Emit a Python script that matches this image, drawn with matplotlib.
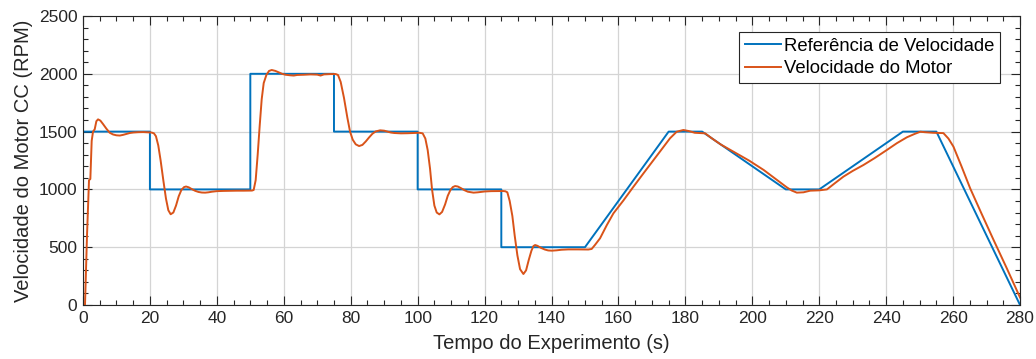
import matplotlib
matplotlib.use("Agg")
import matplotlib.pyplot as plt
from matplotlib.ticker import MultipleLocator

plt.rcParams["font.family"] = ["Liberation Sans", "DejaVu Sans"]

# Speed reference profile (time in s, speed in RPM)
ref_t = [0, 20, 20, 50, 50, 75, 75, 100, 100, 125, 125, 150, 175, 185,
         210, 220, 245, 255, 280]
ref_rpm = [1500, 1500, 1000, 1000, 2000, 2000, 1500, 1500, 1000, 1000,
           500, 500, 1500, 1500, 1000, 1000, 1500, 1500, 0]

# Measured motor speed
motor_t = [0, 0.6, 1.2, 1.8, 2.2, 2.6, 3.0, 3.5, 4.0, 4.5, 5.2, 6.0, 7.0,
           8.0, 9.0, 10.0, 11.0, 12.0, 13.0, 14.0, 15.0, 16.5, 18.0, 19.5,
           20.5, 21.2, 21.8, 22.5, 23.2, 24.0, 24.8, 25.5, 26.2, 27.0, 27.8,
           28.6, 29.4, 30.2, 30.8, 31.6, 32.5, 33.5, 34.5, 35.5, 36.5, 37.5,
           38.5, 40, 42, 44, 46, 48, 50.5, 51.0, 51.6, 52.2, 52.8, 53.4,
           54.0, 54.8, 55.6, 56.4, 57.5, 58.5, 59.5, 60.5, 62, 63, 64, 66,
           68, 70, 71, 72, 74, 75.5, 76.2, 77, 78, 79, 79.8, 80.6, 81.5,
           82.5, 83.5, 84.5, 85.5, 86.5, 87.5, 88.8, 90, 91, 92, 93, 95, 97,
           99, 100.5, 101.5, 102.3, 103.0, 103.7, 104.3, 105.0, 105.7,
           106.5, 107.3, 108.2, 109.0, 109.8, 110.5, 111.2, 112.0, 113, 114,
           115, 116.7, 118, 120, 122, 124, 125.5, 126.2, 126.8, 127.5,
           128.3, 129.0, 129.8, 130.6, 131.6, 132.4, 133.2, 134.0, 134.6,
           135.1, 135.8, 136.8, 138, 139, 140.1, 141.5, 143, 145, 148, 151,
           152, 153, 154.5, 156.5, 158.5, 161.5, 164.5, 167.5, 170.5, 173,
           175.4, 177.4, 179.4, 181, 182.8, 185.9, 188, 190.5, 194.4, 199,
           203.4, 207, 210.3, 211.8, 213.3, 215.3, 217.3, 220, 222.3, 224.5,
           227.2, 230, 233.2, 236.5, 240.2, 243.2, 246.2, 248.5, 250.2,
           251.5, 254, 257.1, 258.6, 260.1, 262.5, 265.1, 268.5, 272.1, 276,
           280]
motor_rpm = [0, 0, 600, 1080, 1090, 1420, 1500, 1520, 1590, 1606, 1595,
             1565, 1525, 1490, 1475, 1468, 1466, 1472, 1480, 1488, 1492,
             1495, 1496, 1494, 1492, 1485, 1460, 1380, 1250, 1080, 920, 820,
             785, 800, 860, 940, 995, 1020, 1025, 1018, 1003, 988, 978, 973,
             972, 975, 980, 985, 987, 988, 989, 989, 990, 995, 1080, 1300,
             1550, 1780, 1920, 1990, 2025, 2033, 2025, 2012, 2000, 1992,
             1987, 1985, 1990, 1992, 1995, 1993, 1985, 1995, 1998, 1998,
             1990, 1930, 1790, 1620, 1500, 1430, 1390, 1375, 1385, 1415,
             1450, 1482, 1502, 1511, 1508, 1500, 1492, 1488, 1485, 1486,
             1488, 1490, 1485, 1440, 1340, 1180, 1000, 860, 800, 784, 805,
             870, 945, 995, 1020, 1029, 1025, 1010, 993, 980, 972, 975, 982,
             985, 986, 986, 984, 975, 900, 770, 600, 430, 310, 268, 300, 390,
             470, 510, 519, 512, 495, 480, 472, 470, 473, 478, 481, 481, 480,
             485, 520, 577, 690, 793, 905, 1024, 1140, 1254, 1350, 1442,
             1499, 1514, 1505, 1490, 1485, 1440, 1390, 1326, 1250, 1168,
             1090, 1018, 990, 972, 975, 989, 992, 1000, 1050, 1110, 1160,
             1211, 1270, 1341, 1400, 1451, 1480, 1499, 1495, 1490, 1487,
             1440, 1370, 1200, 1009, 790, 562, 320, 65]

fig = plt.figure(figsize=(10.36, 3.59), dpi=100)
ax = fig.add_axes([0.0801, 0.1504, 0.9045, 0.805])

ax.plot(ref_t, ref_rpm, color="#0072BD", lw=1.4,
        label="Referência de Velocidade")
ax.plot(motor_t, motor_rpm, color="#D95319", lw=1.4,
        label="Velocidade do Motor")

ax.set_xlim(0, 280)
ax.set_ylim(0, 2500)
ax.xaxis.set_major_locator(MultipleLocator(20))
ax.xaxis.set_minor_locator(MultipleLocator(5))
ax.yaxis.set_major_locator(MultipleLocator(500))
ax.yaxis.set_minor_locator(MultipleLocator(100))
ax.tick_params(which="both", direction="in", top=True, right=True,
               labelsize=12.5, colors="#262626", width=0.8)
ax.tick_params(which="major", length=6.5, pad=4)
ax.tick_params(which="minor", length=3.5)
ax.grid(True, which="major", color="#d4d4d4", lw=0.9)
ax.set_axisbelow(True)
for s in ax.spines.values():
    s.set_color("#262626")
    s.set_linewidth(0.8)

ax.set_xlabel("Tempo do Experimento (s)", fontsize=14.5, color="#262626",
              labelpad=6)
ax.set_ylabel("Velocidade do Motor CC (RPM)", fontsize=14.5, color="#262626",
              labelpad=4)

leg = ax.legend(loc="upper right", bbox_to_anchor=(0.9787, 0.9446),
                fontsize=13.3, fancybox=False, framealpha=1,
                edgecolor="#262626", borderpad=0.3, labelspacing=0.3,
                handlelength=1.95, handletextpad=0.17, borderaxespad=0)
leg.get_frame().set_linewidth(0.8)

fig.savefig("out.png", dpi=100)
